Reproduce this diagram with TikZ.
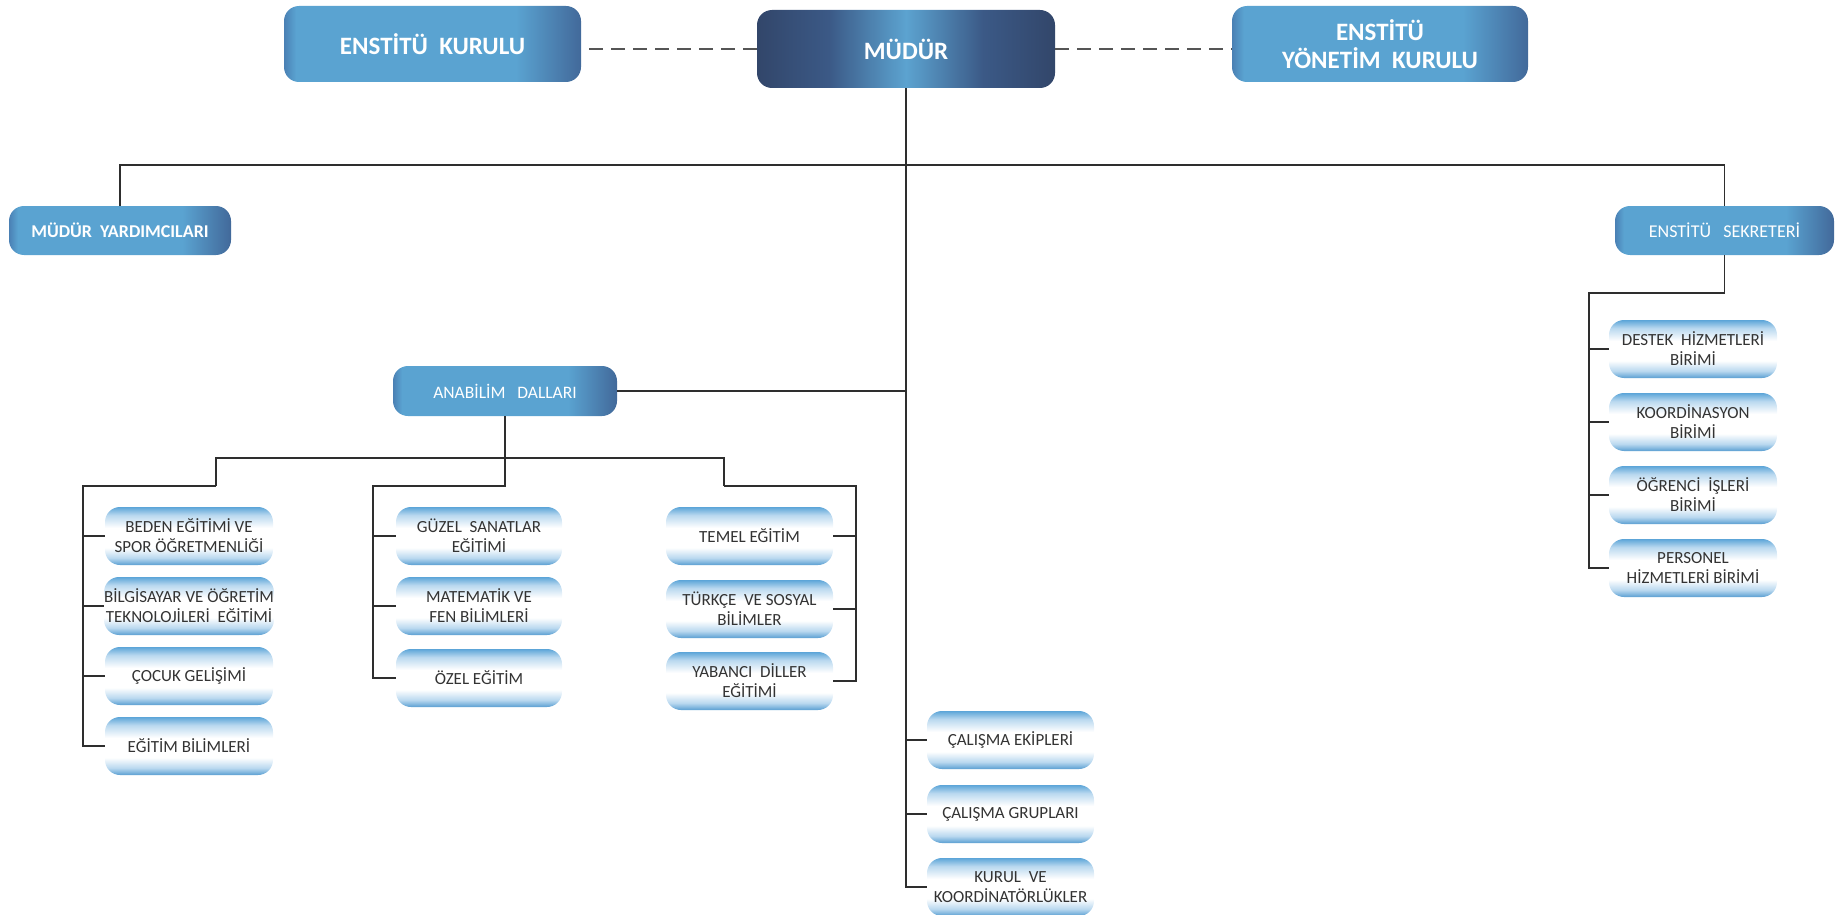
\documentclass[tikz,border=0pt]{standalone}
\usepackage{fontspec}
\setmainfont{Carlito}
\definecolor{tA}{HTML}{4A80B4}
\definecolor{tB}{HTML}{5AA3D1}
\definecolor{tC}{HTML}{42699A}
\definecolor{mA}{HTML}{32466A}
\definecolor{mB}{HTML}{3B5986}
\definecolor{mC}{HTML}{5CA3D0}
\definecolor{lT}{HTML}{5CA5D8}
\definecolor{lM}{HTML}{B9D8EF}
\definecolor{lB}{HTML}{5A9FD2}
\definecolor{leaftext}{HTML}{333333}
\definecolor{linec}{HTML}{2E2E2E}
\definecolor{dashc}{HTML}{555555}
\pgfdeclarehorizontalshading{topshade}{100bp}{color(0bp)=(tA); color(25bp)=(tA); color(27bp)=(tB); color(64bp)=(tB); color(75bp)=(tC); color(100bp)=(tC)}
\pgfdeclarehorizontalshading{mudurshade}{100bp}{color(0bp)=(mA); color(25bp)=(mA); color(37bp)=(mB); color(50bp)=(mC); color(63bp)=(mB); color(75bp)=(mA); color(100bp)=(mA)}
\pgfdeclareverticalshading{leafshade}{100bp}{color(0bp)=(lB); color(25bp)=(lB); color(31bp)=(lM); color(40bp)=(white); color(57bp)=(white); color(68bp)=(lM); color(75bp)=(lT); color(100bp)=(lT)}
\tikzset{
  topbox/.style={shade, shading=topshade, rounded corners=15pt, text=white, align=center, inner sep=0pt},
  mudurbox/.style={shade, shading=mudurshade, rounded corners=15pt, text=white, align=center, inner sep=0pt},
  leafbox/.style={shade, shading=leafshade, rounded corners=15pt, text=leaftext, align=center, inner sep=0pt,
     font=\fontsize{17}{20}\selectfont},
  conn/.style={draw=linec, line width=1.5pt},
  dashconn/.style={draw=dashc, line width=2pt, dash pattern=on 14pt off 8pt}
}
\begin{document}
\begin{tikzpicture}[x=1pt,y=-1pt]
\useasboundingbox (0,0) rectangle (1836,915);
% top level
\node[topbox, minimum width=297pt, minimum height=76pt, font=\bfseries\fontsize{25}{28}\selectfont] (kurul) at (432.5,44) {ENSTİTÜ~~KURULU};
\node[mudurbox, minimum width=298pt, minimum height=78pt, font=\bfseries\fontsize{25}{28}\selectfont] (mudur) at (906,49) {MÜDÜR};
\node[topbox, minimum width=296pt, minimum height=76pt, font=\bfseries\fontsize{25}{28}\selectfont] (ykurul) at (1380,44) {ENSTİTÜ\\YÖNETİM~~KURULU};
\node[topbox, minimum width=222pt, minimum height=49pt, font=\bfseries\fontsize{18}{21}\selectfont] (myard) at (120,230.5) {MÜDÜR~~YARDIMCILARI};
\node[topbox, minimum width=219pt, minimum height=49pt, font=\fontsize{18}{21}\selectfont] (sek) at (1724.5,230.5) {\raisebox{-2pt}{ENSTİTÜ~~~SEKRETERİ}};
\node[topbox, minimum width=224pt, minimum height=50pt, font=\fontsize{17.5}{21}\selectfont] (ana) at (505,391) {\raisebox{-5pt}{ANABİLİM~~~DALLARI}};
% secretariat units
\node[leafbox, minimum width=168pt, minimum height=58pt] (d1) at (1693,349) {DESTEK~~HİZMETLERİ\\BİRİMİ};
\node[leafbox, minimum width=168pt, minimum height=58pt] (d2) at (1693,422) {KOORDİNASYON\\BİRİMİ};
\node[leafbox, minimum width=168pt, minimum height=58pt] (d3) at (1693,495) {ÖĞRENCİ~~İŞLERİ\\BİRİMİ};
\node[leafbox, minimum width=168pt, minimum height=58pt] (d4) at (1693,568) {PERSONEL\\HİZMETLERİ BİRİMİ};
% left column
\node[leafbox, minimum width=168pt, minimum height=58pt] (l1) at (189,536) {BEDEN EĞİTİMİ VE\\SPOR ÖĞRETMENLİĞİ};
\node[leafbox, minimum width=168pt, minimum height=58pt] (l2) at (189,606) {BİLGİSAYAR VE ÖĞRETİM\\TEKNOLOJİLERİ~~EĞİTİMİ};
\node[leafbox, minimum width=168pt, minimum height=58pt] (l3) at (189,676) {ÇOCUK GELİŞİMİ};
\node[leafbox, minimum width=168pt, minimum height=58pt] (l4) at (189,746) {EĞİTİM BİLİMLERİ};
% middle column
\node[leafbox, minimum width=166pt, minimum height=58pt] (m1) at (479,536) {GÜZEL~~SANATLAR\\EĞİTİMİ};
\node[leafbox, minimum width=166pt, minimum height=58pt] (m2) at (479,606) {MATEMATİK VE\\FEN BİLİMLERİ};
\node[leafbox, minimum width=166pt, minimum height=58pt] (m3) at (479,678) {ÖZEL EĞİTİM};
% right column
\node[leafbox, minimum width=167pt, minimum height=58pt] (r1) at (749.5,536) {TEMEL EĞİTİM};
\node[leafbox, minimum width=167pt, minimum height=58pt] (r2) at (749.5,609) {TÜRKÇE~~VE SOSYAL\\BİLİMLER};
\node[leafbox, minimum width=167pt, minimum height=58pt] (r3) at (749.5,681) {YABANCI~~DİLLER\\EĞİTİMİ};
% bottom column
\node[leafbox, minimum width=167pt, minimum height=58pt] (c1) at (1010.5,740) {ÇALIŞMA EKİPLERİ};
\node[leafbox, minimum width=167pt, minimum height=58pt] (c2) at (1010.5,814) {ÇALIŞMA GRUPLARI};
\node[leafbox, minimum width=167pt, minimum height=58pt] (c3) at (1010.5,887) {KURUL~~VE\\KOORDİNATÖRLÜKLER};
% coordinates for bends
\coordinate (tb) at (906,165);
\coordinate (sbL) at (1589,293);
\coordinate (ubL) at (216,458);
\coordinate (ubR) at (724,458);
\coordinate (lb) at (505,486);
\coordinate (colL) at (83,486);
\coordinate (colM) at (373,486);
\coordinate (colR) at (856,486);
% dashed links
\draw[dashconn] (mudur.west) -- (mudur.west -| kurul.east);
\draw[dashconn] (mudur.east) -- (mudur.east -| ykurul.west);
% main spine
\draw[conn] (mudur.south) -- (mudur.south |- c3.west) -- (c3.west);
\draw[conn] (mudur.south |- c1.west) -- (c1.west);
\draw[conn] (mudur.south |- c2.west) -- (c2.west);
\draw[conn] (myard.north) -- (myard.north |- tb) -- (sek.north |- tb) -- (sek.north);
\draw[conn] (ana.east) -- (ana.east -| mudur.south);
% secretariat
\draw[conn] (sek.south) -- (sek.south |- sbL) -- (sbL) -- (sbL |- d4.west) -- (d4.west);
\draw[conn] (sbL |- d1.west) -- (d1.west);
\draw[conn] (sbL |- d2.west) -- (d2.west);
\draw[conn] (sbL |- d3.west) -- (d3.west);
% departments
\draw[conn] (ana.south) -- (lb) -- (colM) -- (colM |- m3.west) -- (m3.west);
\draw[conn] (colM |- m1.west) -- (m1.west);
\draw[conn] (colM |- m2.west) -- (m2.west);
\draw[conn] (ubL |- lb) -- (ubL) -- (ubR) -- (ubR |- lb);
\draw[conn] (ubL |- lb) -- (colL) -- (colL |- l4.west) -- (l4.west);
\draw[conn] (colL |- l1.west) -- (l1.west);
\draw[conn] (colL |- l2.west) -- (l2.west);
\draw[conn] (colL |- l3.west) -- (l3.west);
\draw[conn] (ubR |- lb) -- (colR) -- (colR |- r3.east) -- (r3.east);
\draw[conn] (colR |- r1.east) -- (r1.east);
\draw[conn] (colR |- r2.east) -- (r2.east);
\end{tikzpicture}
\end{document}
